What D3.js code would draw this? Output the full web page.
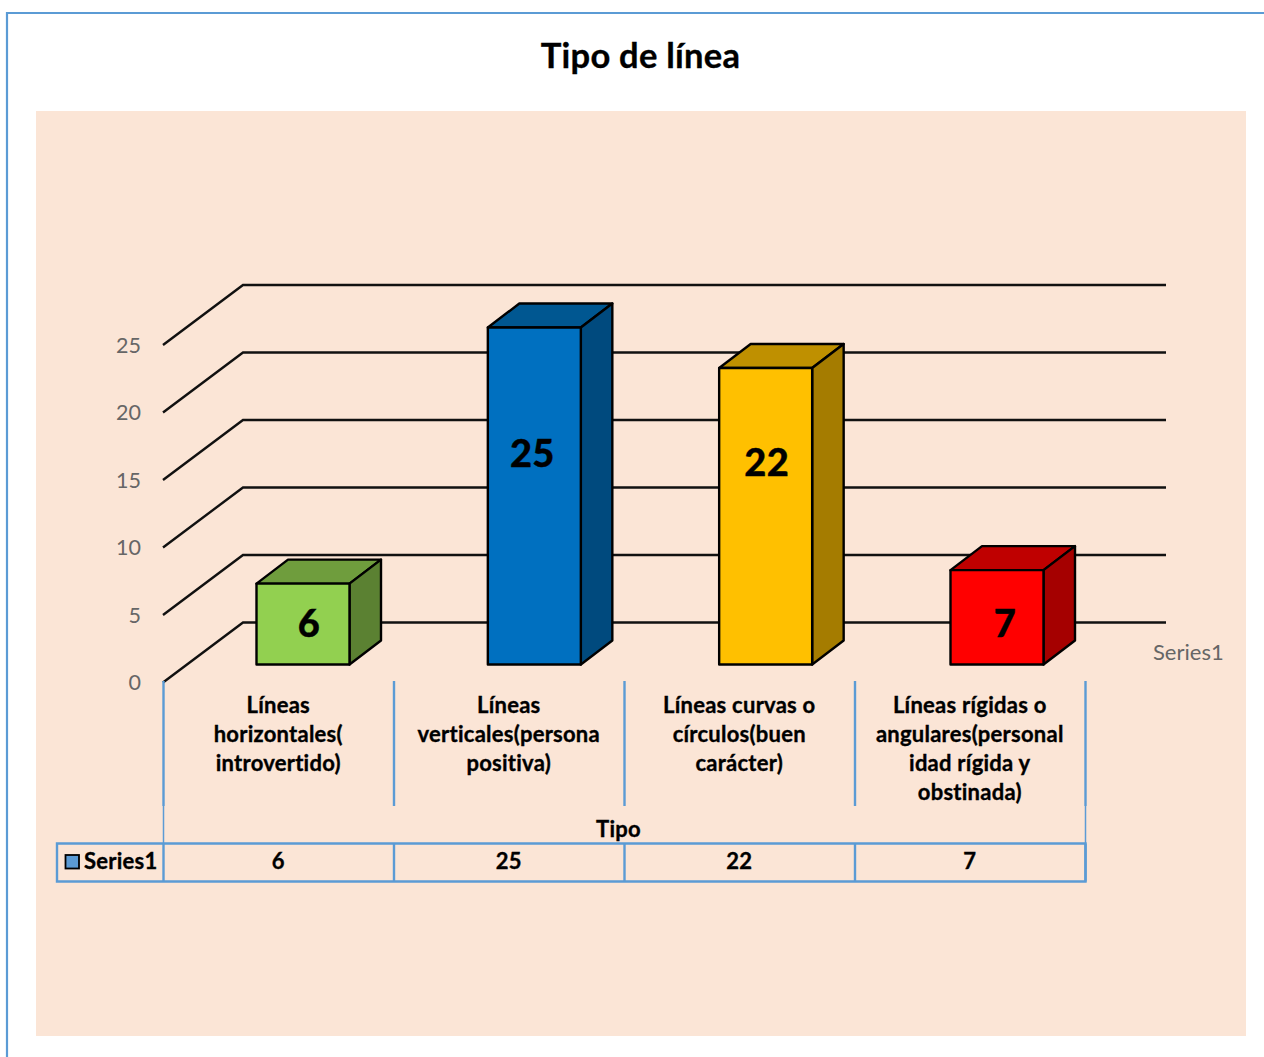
<!DOCTYPE html>
<html><head><meta charset="utf-8">
<script src="https://cdn.jsdelivr.net/npm/d3@7"></script>
<style>html,body{margin:0;padding:0;background:#fff;overflow:hidden}svg{display:block}text{font-family:Lato,"Open Sans",sans-serif}
.b{stroke:#000;stroke-width:.35px;letter-spacing:.25px}</style>
</head><body>
<script>
const chartTitle = "Tipo de línea";
const axisTitle = "Tipo";
const seriesName = "Series1";
const categories = [
  ["Líneas","horizontales(","introvertido)"],
  ["Líneas","verticales(persona","positiva)"],
  ["Líneas curvas o","círculos(buen","carácter)"],
  ["Líneas rígidas o","angulares(personal","idad rígida y","obstinada)"]
];
const values = [6, 25, 22, 7];
const yTicks = [0, 5, 10, 15, 20, 25];
const frontColors = ["#92D050","#0070C0","#FFC000","#FF0000"];
const topColors = ["#6F9D3D","#005791","#BF9000","#BF0000"];
const sideColors = ["#5B8132","#004A7E","#A57C00","#A50000"];

const W = 1264, H = 1057, blue = "#5B9BD5", ink = "#000";
const svg = d3.select("body").append("svg").attr("width", W).attr("height", H);

// chart frame and plot background
svg.append("rect").attr("x",36).attr("y",111).attr("width",1210).attr("height",925).attr("fill","#FBE5D6");
svg.append("path").attr("d",`M7,${H}V13H${W}`).attr("fill","none").attr("stroke",blue).attr("stroke-width",2.2);

svg.append("text").attr("class","b").attr("x",640.5).attr("y",68).attr("text-anchor","middle")
  .attr("font-size",34.5).attr("font-weight",700).attr("fill",ink).text(chartTitle);

// scales
const ids = categories.map((_, i) => i);
const yAxisScale = d3.scaleLinear().domain([0,25]).range([682.5,345]);
const barY = d3.scaleLinear().domain([0,25]).range([664.5,327.5]);
const tableX = d3.scaleBand().domain(ids).range([163.5,1085.5]);
const barX = d3.scalePoint().domain(ids).range([256.5,950.5]);
const barW = 93, depthX = 31.5, depthY = 24, wallX = 80, wallY = 60, wallEnd = 1166;

// gridlines (side wall + back wall)
const grid = svg.append("g").attr("fill","none").attr("stroke","#111").attr("stroke-width",2.4);
grid.selectAll("path").data(yTicks).join("path")
  .attr("d", d => { const y = yAxisScale(d); return `M163,${y}L${163+wallX},${y-wallY}H${wallEnd}`; });

// value axis labels
const yAxis = d3.axisLeft(yAxisScale).tickValues(yTicks).tickSize(0).tickPadding(0);
const yG = svg.append("g").attr("transform","translate(141,0.5)").call(yAxis);
yG.select(".domain").remove();
yG.selectAll("text").attr("font-size",21.5).attr("fill","#666").style("font-family","Lato");

// 3-D bars
const bars = svg.selectAll("g.bar").data(values).join("g").attr("class","bar")
  .attr("stroke","#000").attr("stroke-width",2.4).attr("stroke-linejoin","round");
bars.append("path").attr("fill",(d,i)=>topColors[i]).attr("d",(d,i)=>{
  const x=barX(i), y=barY(d);
  return `M${x},${y}l${depthX},${-depthY}h${barW}l${-depthX},${depthY}Z`;
});
bars.append("path").attr("fill",(d,i)=>sideColors[i]).attr("d",(d,i)=>{
  const x=barX(i)+barW, y=barY(d), b=barY(0);
  return `M${x},${y}l${depthX},${-depthY}V${b-depthY}L${x},${b}Z`;
});
bars.append("rect").attr("fill",(d,i)=>frontColors[i])
  .attr("x",(d,i)=>barX(i)).attr("y",d=>barY(d)).attr("width",barW).attr("height",d=>barY(0)-barY(d));

// data labels (placement)
const labelDx = [53,45,48,55], labelCy = [623,453,462,623];
svg.selectAll("text.val").data(values).join("text").attr("class","val b")
  .attr("x",(d,i)=>barX(i)+labelDx[i]-0.5).attr("y",(d,i)=>labelCy[i]).attr("dy","0.36em")
  .attr("text-anchor","middle").attr("font-size",38).attr("font-weight",900).attr("fill",ink).text(d=>d);

// category separators
const edges = ids.map(i=>tableX(i)).concat([tableX.range()[1]]);
const lines = svg.append("g").attr("stroke",blue).attr("stroke-width",2.4);
lines.selectAll("line.sep").data(edges).join("line").attr("class","sep")
  .attr("x1",d=>d).attr("x2",d=>d).attr("y1",681).attr("y2",806);
lines.append("line").attr("x1",163.5).attr("x2",163.5).attr("y1",806).attr("y2",843).attr("stroke-width",1.5);
lines.append("line").attr("x1",1085.5).attr("x2",1085.5).attr("y1",806).attr("y2",843).attr("stroke-width",1.5);

// category labels
const catG = svg.selectAll("text.cat").data(categories).join("text").attr("class","cat b")
  .attr("text-anchor","middle").attr("font-size",22).attr("font-weight",700).attr("fill",ink);
catG.selectAll("tspan").data((d,i)=>d.map(t=>({t,i}))).join("tspan")
  .attr("x",d=>tableX(d.i)+tableX.bandwidth()/2-0.5)
  .attr("y",(d,j)=>712.5+j*29.3).text(d=>d.t);

svg.append("text").attr("class","b").attr("x",618.5).attr("y",837).attr("text-anchor","middle")
  .attr("font-size",22).attr("font-weight",700).attr("fill",ink).text(axisTitle);

// data table
const table = svg.append("g").attr("stroke",blue).attr("stroke-width",2.4);
table.append("path").attr("fill","none").attr("d",`M57,843.5H1085.5V881.5H57Z`);
table.selectAll("line").data(edges).join("line")
  .attr("x1",d=>d).attr("x2",d=>d).attr("y1",843.5).attr("y2",881.5);
svg.append("rect").attr("x",65.5).attr("y",855).attr("width",13.5).attr("height",13.5)
  .attr("fill",blue).attr("stroke","#000").attr("stroke-width",1.8);
svg.append("text").attr("class","b").attr("x",84).attr("y",869).attr("font-size",22).attr("font-weight",700).attr("fill",ink).text(seriesName);
svg.selectAll("text.tv").data(values).join("text").attr("class","tv b")
  .attr("x",(d,i)=>tableX(i)+tableX.bandwidth()/2-0.5).attr("y",869)
  .attr("text-anchor","middle").attr("font-size",22).attr("font-weight",700).attr("fill",ink).text(d=>d);

// depth axis label
svg.append("text").attr("x",1153).attr("y",660).attr("font-size",22).attr("fill","#666").text(seriesName);
</script>
</body></html>
